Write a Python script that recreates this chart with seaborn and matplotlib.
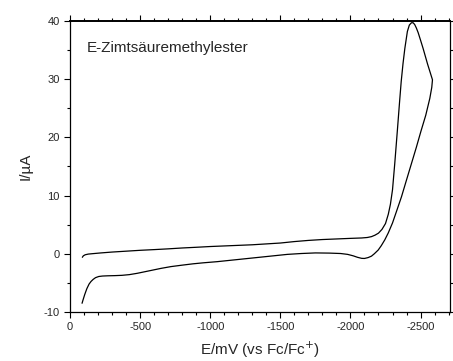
import pandas as pd
import matplotlib
matplotlib.use("Agg")
import matplotlib.pyplot as plt
import seaborn as sns
from matplotlib.ticker import MultipleLocator

# cathodic (forward) scan, upper branch
fwd_E = [-88, -95, -108, -130, -160, -220, -300, -400, -500, -600, -700, -800, -900,
         -1000, -1100, -1200, -1300, -1400, -1500, -1600, -1700, -1800, -1900, -2000,
         -2080, -2120, -2150, -2175, -2200, -2225, -2250, -2270, -2285, -2300, -2316,
         -2335, -2350, -2362, -2375, -2388, -2406, -2420, -2435, -2447, -2458, -2470,
         -2483, -2500, -2518, -2550, -2585]
fwd_I = [-0.6, -0.35, -0.17, -0.05, 0.02, 0.15, 0.3, 0.45, 0.6, 0.72, 0.85, 1.0, 1.12,
         1.25, 1.35, 1.45, 1.55, 1.7, 1.85, 2.1, 2.3, 2.45, 2.55, 2.65,
         2.72, 2.8, 2.95, 3.2, 3.55, 4.2, 5.2, 6.8, 8.5, 11.0, 15.5,
         21.3, 26.0, 29.6, 32.7, 35.3, 38.2, 39.3, 39.7, 39.7, 39.4, 38.8,
         38.0, 36.7, 35.3, 32.6, 29.9]

# reverse scan, lower branch
rev_E = [-2580, -2566, -2537, -2502, -2470, -2435, -2400, -2364, -2330, -2300, -2270,
         -2245, -2220, -2198, -2170, -2150, -2126, -2100, -2080, -2050, -2020, -1980,
         -1930, -1850, -1750, -1650, -1550, -1450, -1350, -1250, -1150, -1050, -950,
         -878, -800, -720, -650, -590, -540, -480, -423, -370, -320, -270, -232, -205,
         -182, -165, -150, -136, -120, -105, -92, -86]
rev_I = [28.6, 26.7, 23.8, 21.0, 18.3, 15.5, 12.7, 9.8, 7.4, 5.3, 3.6,
         2.4, 1.4, 0.65, 0.0, -0.4, -0.65, -0.8, -0.78, -0.6, -0.35, -0.1,
         0.05, 0.12, 0.15, 0.05, -0.1, -0.35, -0.6, -0.85, -1.1, -1.35, -1.55,
         -1.72, -1.95, -2.2, -2.5, -2.8, -3.05, -3.35, -3.58, -3.7, -3.75, -3.78, -3.82, -3.9,
         -4.1, -4.4, -4.75, -5.2, -6.0, -7.0, -8.0, -8.5]

cv = pd.DataFrame({'E': fwd_E + rev_E, 'I': fwd_I + rev_I})

sns.set_style("ticks")
plt.rcParams['font.family'] = ['Liberation Sans', 'DejaVu Sans']
plt.rcParams['axes.unicode_minus'] = False

fig = plt.figure(figsize=(4.53, 3.61), dpi=100)
ax = fig.add_axes([70 / 453, 1 - 312 / 361, 380 / 453, 291 / 361])

sns.lineplot(data=cv, x='E', y='I', sort=False, estimator=None,
             color='black', linewidth=0.9, ax=ax)

ax.set_xlim(0, -2710)
ax.set_ylim(-10, 40)
ax.xaxis.set_major_locator(MultipleLocator(500))
ax.xaxis.set_minor_locator(MultipleLocator(100))
ax.yaxis.set_major_locator(MultipleLocator(10))
ax.yaxis.set_minor_locator(MultipleLocator(5))
ax.tick_params(which='both', direction='out', top=True, right=True,
               labeltop=False, labelright=False, width=0.8, color='black')
ax.tick_params(which='major', length=4.5, labelsize=8, pad=3)
ax.tick_params(which='minor', length=2.5)
for s in ax.spines.values():
    s.set_visible(True)
    s.set_linewidth(0.9)
    s.set_color('black')
ax.spines['top'].set_linewidth(1.4)

ax.set_xlabel('E/mV (vs Fc/Fc$^{+}$)', fontsize=11, labelpad=5)
ax.set_ylabel('I/\u00b5A', fontsize=11, labelpad=8)
ax.text(0.045, 0.907, 'E-Zimts\u00e4uremethylester', transform=ax.transAxes,
        fontsize=11, va='center', ha='left')

fig.savefig('out.png', dpi=100)
